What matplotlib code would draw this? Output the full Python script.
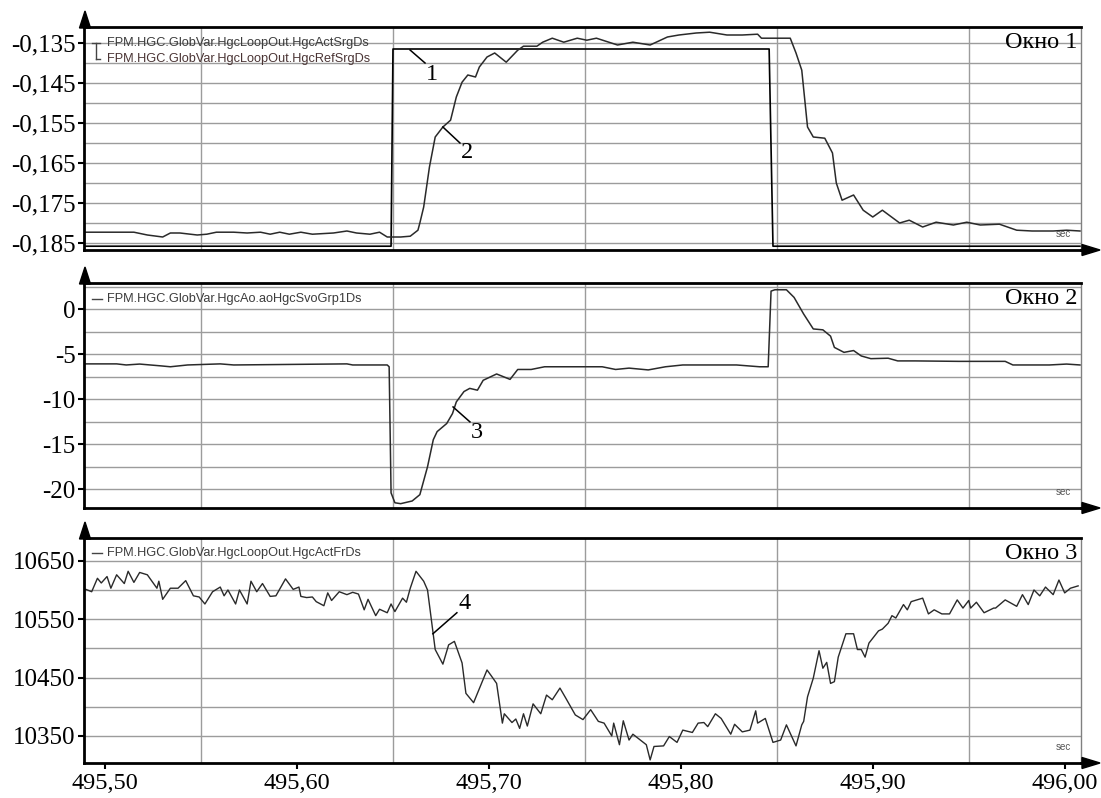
import matplotlib
matplotlib.use("Agg")
import matplotlib.pyplot as plt
from matplotlib.patches import Polygon
from matplotlib.ticker import FuncFormatter

# ---- data ----
time_ref = [495.489, 495.649, 495.650, 495.846, 495.848, 496.008]
srg_ref = [-0.1858, -0.1858, -0.1365, -0.1365, -0.1858, -0.1858]

time_act = [
    495.489, 495.506, 495.515, 495.522, 495.530, 495.534, 495.539, 495.548, 495.553, 495.558,
    495.567, 495.574, 495.581, 495.586, 495.591, 495.596, 495.602, 495.608, 495.619, 495.626,
    495.631, 495.638, 495.643, 495.647, 495.654, 495.659, 495.663, 495.664, 495.666, 495.669,
    495.672, 495.676, 495.680, 495.683, 495.686, 495.689, 495.693, 495.695, 495.699, 495.703,
    495.709, 495.715, 495.718, 495.725, 495.728, 495.733, 495.739, 495.746, 495.751, 495.756,
    495.767, 495.775, 495.784, 495.793, 495.799, 495.808, 495.815, 495.824, 495.832, 495.840,
    495.842, 495.857, 495.860, 495.863, 495.866, 495.869, 495.875, 495.879, 495.881, 495.884,
    495.890, 495.895, 495.900, 495.905, 495.914, 495.919, 495.926, 495.933, 495.942, 495.949,
    495.956, 495.966, 495.975, 495.983, 495.994, 496.001, 496.008,
]
srg_act = [
    -0.1823, -0.1823, -0.1823, -0.1830, -0.1835, -0.1825, -0.1825, -0.1830, -0.1828, -0.1823,
    -0.1823, -0.1825, -0.1823, -0.1828, -0.1823, -0.1828, -0.1823, -0.1828, -0.1825, -0.1820,
    -0.1825, -0.1828, -0.1823, -0.1835, -0.1835, -0.1833, -0.1818, -0.1800, -0.1760, -0.1660,
    -0.1585, -0.1560, -0.1543, -0.1485, -0.1448, -0.1430, -0.1435, -0.1410, -0.1385, -0.1375,
    -0.1398, -0.1368, -0.1358, -0.1358, -0.1348, -0.1338, -0.1348, -0.1338, -0.1343, -0.1338,
    -0.1355, -0.1348, -0.1355, -0.1335, -0.1330, -0.1325, -0.1323, -0.1330, -0.1330, -0.1328,
    -0.1338, -0.1338, -0.1375, -0.1418, -0.1560, -0.1585, -0.1588, -0.1625, -0.1700, -0.1743,
    -0.1730, -0.1768, -0.1785, -0.1768, -0.1800, -0.1793, -0.1810, -0.1798, -0.1805, -0.1798,
    -0.1805, -0.1803, -0.1818, -0.1820, -0.1820, -0.1818, -0.1820,
]

time_svo = [
    495.4896, 495.506, 495.511, 495.518, 495.529, 495.534, 495.543, 495.560, 495.567, 495.626,
    495.629, 495.647, 495.648, 495.649, 495.651, 495.654, 495.660, 495.664, 495.668, 495.671,
    495.673, 495.678, 495.681, 495.683, 495.687, 495.690, 495.694, 495.697, 495.704, 495.711,
    495.715, 495.722, 495.729, 495.743, 495.759, 495.766, 495.773, 495.783, 495.792, 495.801,
    495.811, 495.829, 495.841, 495.8455, 495.847, 495.849, 495.855, 495.859, 495.864, 495.869,
    495.874, 495.878, 495.880, 495.885, 495.890, 495.894, 495.899, 495.908, 495.913, 495.922,
    495.945, 495.969, 495.973, 495.992, 496.001, 496.008,
]
svo_grp = [
    -6.08, -6.08, -6.2, -6.1, -6.3, -6.4, -6.2, -6.08, -6.2, -6.08,
    -6.2, -6.2, -6.4, -20.4, -21.5, -21.6, -21.3, -20.6, -17.5, -14.5,
    -13.6, -12.7, -11.6, -10.3, -9.15, -8.8, -9.0, -7.9, -7.2, -7.8,
    -6.7, -6.7, -6.4, -6.4, -6.4, -6.7, -6.55, -6.75, -6.4, -6.2,
    -6.2, -6.2, -6.4, -6.4, 2.0, 2.15, 2.15, 1.3, -0.55, -2.2,
    -2.3, -3.0, -4.25, -4.8, -4.6, -5.2, -5.5, -5.45, -5.75, -5.75,
    -5.8, -5.8, -6.2, -6.2, -6.1, -6.2,
]

time_fr = [
    495.490, 495.493, 495.496, 495.498, 495.501, 495.503, 495.506, 495.510, 495.512, 495.515,
    495.518, 495.522, 495.527, 495.528, 495.530, 495.534, 495.538, 495.542, 495.546, 495.549,
    495.552, 495.556, 495.560, 495.562, 495.564, 495.568, 495.570, 495.574, 495.576, 495.579,
    495.582, 495.586, 495.589, 495.594, 495.598, 495.601, 495.602, 495.605, 495.608, 495.610,
    495.614, 495.616, 495.618, 495.622, 495.626, 495.629, 495.632, 495.635, 495.637, 495.641,
    495.643, 495.647, 495.649, 495.651, 495.655, 495.657, 495.659, 495.662, 495.666, 495.668,
    495.671, 495.672, 495.676, 495.679, 495.682, 495.686, 495.688, 495.692, 495.694, 495.699,
    495.701, 495.704, 495.707, 495.708, 495.712, 495.714, 495.716, 495.718, 495.720, 495.723,
    495.727, 495.730, 495.733, 495.737, 495.740, 495.745, 495.749, 495.753, 495.757, 495.760,
    495.764, 495.765, 495.768, 495.770, 495.773, 495.775, 495.780, 495.782, 495.784, 495.786,
    495.791, 495.794, 495.798, 495.801, 495.806, 495.809, 495.812, 495.814, 495.818, 495.821,
    495.826, 495.828, 495.832, 495.836, 495.839, 495.840, 495.844, 495.848, 495.852, 495.855,
    495.860, 495.863, 495.864, 495.866, 495.869, 495.872, 495.874, 495.876, 495.878, 495.880,
    495.882, 495.886, 495.890, 495.892, 495.894, 495.896, 495.898, 495.903, 495.905, 495.908,
    495.910, 495.912, 495.916, 495.918, 495.920, 495.926, 495.929, 495.932, 495.936, 495.940,
    495.944, 495.947, 495.950, 495.951, 495.954, 495.958, 495.963, 495.964, 495.969, 495.975,
    495.978, 495.981, 495.984, 495.987, 495.990, 495.994, 495.997, 496.000, 496.003, 496.007,
]
act_fr = [
    10601, 10597, 10620, 10612, 10623, 10603, 10626, 10611, 10632, 10613,
    10630, 10626, 10603, 10615, 10584, 10603, 10603, 10616, 10590, 10588,
    10576, 10597, 10605, 10590, 10600, 10576, 10600, 10576, 10615, 10597,
    10611, 10589, 10590, 10619, 10601, 10605, 10589, 10587, 10588, 10580,
    10573, 10595, 10582, 10597, 10592, 10596, 10593, 10566, 10584, 10556,
    10567, 10561, 10576, 10563, 10586, 10579, 10603, 10632, 10615, 10600,
    10523, 10498, 10473, 10506, 10512, 10475, 10423, 10407, 10423, 10463,
    10454, 10440, 10372, 10388, 10373, 10379, 10363, 10388, 10367, 10405,
    10388, 10420, 10412, 10432, 10415, 10386, 10378, 10395, 10375, 10372,
    10350, 10372, 10335, 10376, 10343, 10353, 10340, 10335, 10309, 10332,
    10333, 10349, 10339, 10360, 10356, 10372, 10373, 10366, 10388, 10380,
    10353, 10370, 10357, 10360, 10393, 10372, 10380, 10339, 10343, 10369,
    10333, 10369, 10375, 10417, 10449, 10496, 10466, 10476, 10440, 10443,
    10485, 10525, 10525, 10498, 10498, 10485, 10509, 10530, 10533, 10543,
    10556, 10552, 10575, 10566, 10580, 10586, 10559, 10566, 10559, 10559,
    10583, 10569, 10582, 10569, 10579, 10561, 10569, 10569, 10583, 10572,
    10592, 10575, 10600, 10590, 10605, 10592, 10617, 10595, 10603, 10607,
]

x_ticks = [495.50, 495.60, 495.70, 495.80, 495.90, 496.00]
x_grid = [495.50, 495.55, 495.60, 495.65, 495.70, 495.75, 495.80, 495.85, 495.90, 495.95, 496.00]
y1_ticks = [-0.135, -0.145, -0.155, -0.165, -0.175, -0.185]
y1_grid = [-0.135, -0.140, -0.145, -0.150, -0.155, -0.160, -0.165, -0.170, -0.175, -0.180, -0.185]
y2_ticks = [0, -5, -10, -15, -20]
y2_grid = [2.5, 0, -2.5, -5, -7.5, -10, -12.5, -15, -17.5, -20]
y3_ticks = [10650, 10550, 10450, 10350]
y3_grid = [10650, 10600, 10550, 10500, 10450, 10400, 10350]

legend_names = [
    ["FPM.HGC.GlobVar.HgcLoopOut.HgcActSrgDs", "FPM.HGC.GlobVar.HgcLoopOut.HgcRefSrgDs"],
    ["FPM.HGC.GlobVar.HgcAo.aoHgcSvoGrp1Ds"],
    ["FPM.HGC.GlobVar.HgcLoopOut.HgcActFrDs"],
]
window_names = ["Окно 1", "Окно 2", "Окно 3"]

# ---- layout ----
W, H = 1101, 798
serif = "Liberation Serif"
sans = "Liberation Sans"
grid_color = "#9c9c9c"
line_color = "#2a2a2a"


def fx(x):
    return x / W


def fy(y):
    return 1 - y / H


fig = plt.figure(figsize=(W / 100, H / 100), dpi=100)

boxes = [(27, 250), (283, 508), (538, 763)]
ylims = [(-0.18675, -0.1310), (-22.08, 2.9), (10303.7, 10689)]
left, right = 84, 1081

axes = []
for top, bottom in boxes:
    ax = fig.add_axes([fx(left), fy(bottom), fx(right - left), (bottom - top) / H])
    axes.append(ax)

ax1, ax2, ax3 = axes

ax1.plot(time_ref, srg_ref, color="black", lw=1.2)
ax1.plot(time_act, srg_act, color=line_color, lw=1.1)
ax2.plot(time_svo, svo_grp, color=line_color, lw=1.1)
ax3.plot(time_fr, act_fr, color=line_color, lw=1.0)

y_ticks = [y1_ticks, y2_ticks, y3_ticks]
y_grids = [y1_grid, y2_grid, y3_grid]
y_fmts = [
    lambda v, _: f"{v:.3f}".replace(".", ","),
    lambda v, _: f"{v:.0f}",
    lambda v, _: f"{v:.0f}",
]

for i, ax in enumerate(axes):
    ax.set_xlim(495.489, 496.0085)
    ax.set_ylim(*ylims[i])
    ax.set_xticks(x_ticks)
    ax.set_xticks(x_grid, minor=True)
    ax.set_yticks(y_ticks[i])
    ax.set_yticks(y_grids[i], minor=True)
    ax.yaxis.set_major_formatter(FuncFormatter(y_fmts[i]))
    ax.grid(which="minor", color=grid_color, lw=1.0)
    ax.grid(which="major", axis="y", color=grid_color, lw=1.0)
    ax.set_axisbelow(True)
    ax.tick_params(axis="y", which="major", length=4, width=1.5, direction="out",
                   pad=2, labelsize=18, colors="black")
    ax.tick_params(which="minor", length=0)
    for lab in ax.get_yticklabels():
        lab.set_fontfamily(serif)
    for side in ["left", "bottom", "top"]:
        ax.spines[side].set_linewidth(2.0)
        ax.spines[side].set_color("black")
    ax.spines["right"].set_linewidth(1.0)
    ax.spines["right"].set_color("#808080")

    ax.text(0.996, 1 - 21 / 225, window_names[i], transform=ax.transAxes,
            ha="right", va="baseline", fontsize=17.5, family=serif)
    ax.text(0.99, 0.048, "sec", transform=ax.transAxes, ha="right", va="bottom",
            fontsize=7, family=sans, color="#555555")

    if i < 2:
        ax.tick_params(axis="x", which="major", length=0, labelbottom=False)

ax3.xaxis.set_major_formatter(FuncFormatter(lambda v, _: f"{v:.2f}".replace(".", ",")))
ax3.tick_params(axis="x", which="major", length=4, width=1.5, direction="out",
                pad=3, labelsize=17.5)
for lab in ax3.get_xticklabels():
    lab.set_fontfamily(serif)

# legends (transparent, like the source software)
legend_y = [[0.9296, 0.8565], [0.929], [0.933]]
for i, ax in enumerate(axes):
    for j, name in enumerate(legend_names[i]):
        ax.text(0.0231, legend_y[i][j], name, transform=ax.transAxes, ha="left",
                va="center", fontsize=9.2, family=sans,
                color="#3c3c3c" if j == 0 else "#4a3434")
    if i == 0:
        ya, yb = legend_y[0]
        ax.plot([0.0078, 0.016], [ya, ya], transform=ax.transAxes, color="#444444", lw=1)
        ax.plot([0.012, 0.012], [ya, yb], transform=ax.transAxes, color="#444444", lw=1)
        ax.plot([0.012, 0.016], [yb, yb], transform=ax.transAxes, color="#444444", lw=1)
    else:
        yy = legend_y[i][0]
        ax.plot([0.008, 0.018], [yy, yy], transform=ax.transAxes, color="#444444", lw=1)

# numbered callouts
ax1.plot([495.6589, 495.6667], [-0.13675, -0.1400], color="black", lw=1.1)
ax1.text(495.6705, -0.1430, "1", ha="center", va="center", fontsize=17.5, family=serif)
ax1.plot([495.6760, 495.6849], [-0.1560, -0.1600], color="black", lw=1.1)
ax1.text(495.6885, -0.1625, "2", ha="center", va="center", fontsize=17.5, family=serif)
ax2.plot([495.6813, 495.6901], [-10.86, -12.52], color="black", lw=1.1)
ax2.text(495.6938, -13.7, "3", ha="center", va="center", fontsize=17.5, family=serif)
ax3.plot([495.6708, 495.6833], [10525, 10561], color="black", lw=1.1)
ax3.text(495.6875, 10576, "4", ha="center", va="center", fontsize=17.5, family=serif)

# axis arrows
for top, bottom in boxes:
    cx = left + 1
    fig.add_artist(Polygon([(fx(cx - 5.5), fy(top + 1)), (fx(cx + 5.5), fy(top + 1)),
                            (fx(cx), fy(top - 16))], closed=True, color="black",
                           transform=fig.transFigure))
    fig.add_artist(plt.Line2D([fx(right), fx(1090)], [fy(bottom), fy(bottom)],
                              color="black", lw=2.0, transform=fig.transFigure))
    fig.add_artist(Polygon([(fx(1082), fy(bottom - 5.5)), (fx(1082), fy(bottom + 5.5)),
                            (fx(1100), fy(bottom))], closed=True, color="black",
                           transform=fig.transFigure))

fig.savefig("out.png", dpi=100)
